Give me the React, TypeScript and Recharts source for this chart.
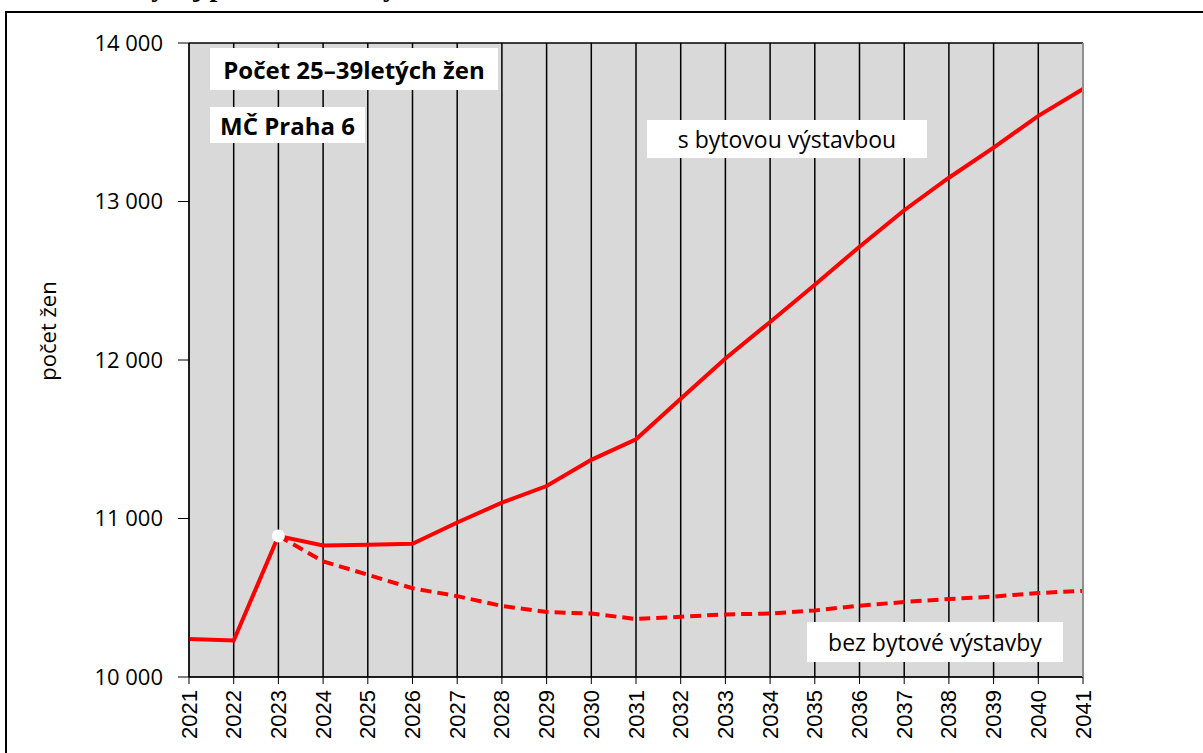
import {
  LineChart, Line, XAxis, YAxis, CartesianGrid
} from 'recharts';

const YEARS = [
  '2021', '2022', '2023', '2024', '2025', '2026', '2027', '2028', '2029', '2030', '2031',
  '2032', '2033', '2034', '2035', '2036', '2037', '2038', '2039', '2040', '2041',
];

// s bytovou výstavbou
const WITH_CONSTRUCTION = [
  10240, 10230, 10890, 10830, 10835, 10840, 10975, 11100, 11205, 11370, 11500,
  11755, 12010, 12240, 12475, 12715, 12945, 13150, 13340, 13540, 13710,
];

// bez bytové výstavby (viditelná od roku 2023)
const WITHOUT_CONSTRUCTION = [
  null, null, 10890, 10730, 10645, 10560, 10510, 10448, 10410, 10400, 10366,
  10380, 10395, 10400, 10420, 10450, 10473, 10492, 10507, 10530, 10543,
];

const Y_TICKS = [10000, 11000, 12000, 13000, 14000];

const data = YEARS.map((year, i) => ({
  year,
  s: WITH_CONSTRUCTION[i],
  bez: WITHOUT_CONSTRUCTION[i],
}));

const RED = '#ff0000';
const SANS = '"Open Sans", sans-serif';
const fmt = (v: number) => v.toLocaleString('en-US').replace(',', '\u00a0');

function YearTick({ x, y, payload }: any) {
  return (
    <text
      x={x}
      y={y}
      transform={`rotate(-90, ${x}, ${y})`}
      textAnchor="end"
      dominantBaseline="central"
      fontFamily='"Liberation Sans", Arial, sans-serif'
      fontSize={22}
      fill="#000"
    >
      {payload.value}
    </text>
  );
}

function StartDot({ cx, cy, index }: any) {
  if (index !== 2) return <g key={index} />;
  return <circle key={index} cx={cx} cy={cy} r={6.5} fill="#fff" stroke="none" />;
}

const box = (left: number, top: number, width: number, height: number, bold: boolean): React.CSSProperties => ({
  position: 'absolute',
  left,
  top,
  width,
  height,
  background: '#fff',
  display: 'flex',
  alignItems: 'center',
  justifyContent: 'center',
  fontFamily: SANS,
  fontWeight: bold ? 700 : 400,
  fontSize: bold ? 24 : 23,
  color: '#000',
  whiteSpace: 'nowrap',
});

export default function App() {
  return (
    <div style={{ position: 'absolute', left: 0, top: 0, width: 1203, height: 753, overflow: 'hidden', background: '#fff' }}>
      <div
        style={{
          position: 'absolute', left: 40, top: -27, fontFamily: '"Liberation Serif", serif',
          fontWeight: 700, fontSize: 28, lineHeight: 1, whiteSpace: 'nowrap',
        }}
      >
        Obr. 6: Vývoj počtu 25–39letých žen v MČ Praha 6
      </div>
      <div
        style={{
          position: 'absolute', left: 5, top: 11, width: 1400, height: 900,
          borderTop: '2px solid #000', borderLeft: '2px solid #000',
        }}
      />
      <div style={{ position: 'absolute', left: 0, top: 0 }}>
        <LineChart width={1203} height={753} data={data} margin={{ top: 43, right: 0, bottom: 0, left: 0 }}>
          <CartesianGrid fill="#d9d9d9" stroke="#000" strokeWidth={1.5} />
          <XAxis
            dataKey="year"
            interval={0}
            height={76}
            tickSize={7}
            tickMargin={6}
            stroke="#000"
            tickLine={{ stroke: '#000' }}
            tick={<YearTick />}
          />
          <YAxis
            yAxisId="left"
            width={189}
            domain={[10000, 14000]}
            ticks={Y_TICKS}
            tickFormatter={fmt}
            tickSize={11}
            tickMargin={15}
            stroke="#000"
            tick={{ fontFamily: SANS, fontSize: 22, fill: '#000' }}
            label={{
              content: ({ viewBox }: any) => (
                <text
                  x={viewBox.x + 47}
                  y={331}
                  transform={`rotate(-90, ${viewBox.x + 47}, 331)`}
                  textAnchor="middle"
                  dominantBaseline="central"
                  fontFamily={SANS}
                  fontSize={22}
                  fill="#000"
                >
                  počet žen
                </text>
              ),
            }}
          />
          <YAxis
            yAxisId="right"
            orientation="right"
            width={120}
            domain={[10000, 14000]}
            ticks={Y_TICKS}
            tickFormatter={fmt}
            tickSize={10}
            tickMargin={15}
            axisLine={{ stroke: '#a6a6a6', strokeWidth: 1.6 }}
            tickLine={{ stroke: '#a6a6a6' }}
            tick={{ fontFamily: SANS, fontSize: 22, fill: '#000' }}
          />
          <Line
            yAxisId="left"
            type="linear"
            dataKey="bez"
            stroke={RED}
            strokeWidth={4}
            strokeDasharray="11 6"
            dot={false}
            activeDot={false}
            connectNulls={false}
            isAnimationActive={false}
          />
          <Line
            yAxisId="left"
            type="linear"
            dataKey="s"
            stroke={RED}
            strokeWidth={4}
            dot={<StartDot />}
            activeDot={false}
            isAnimationActive={false}
          />
        </LineChart>
      </div>
      <div style={box(210, 48, 288, 42, true)}>Počet 25–39letých žen</div>
      <div style={box(210, 107, 155, 36, true)}>MČ Praha 6</div>
      <div style={box(647, 120, 280, 38, false)}>s bytovou výstavbou</div>
      <div style={box(807, 622, 256, 40, false)}>bez bytové výstavby</div>
    </div>
  );
}
